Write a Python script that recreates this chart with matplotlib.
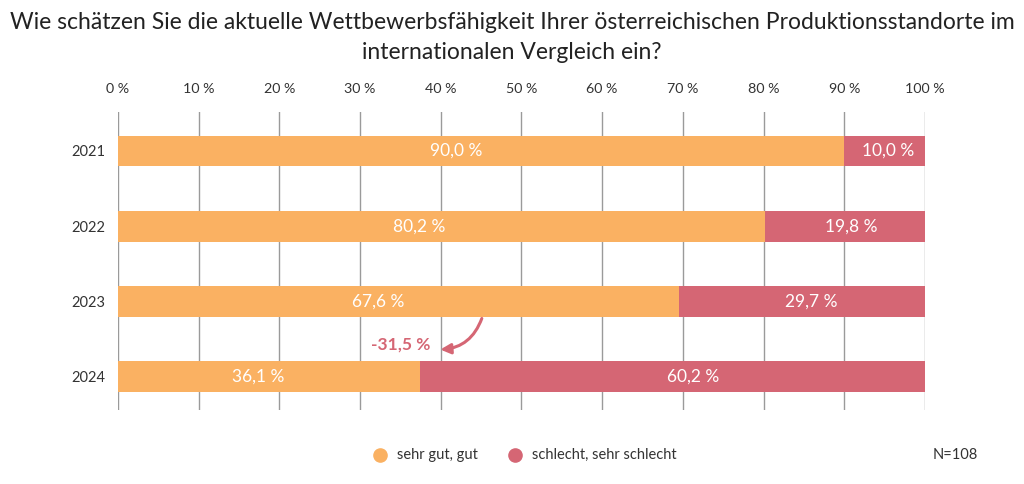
import matplotlib
matplotlib.use("Agg")
import matplotlib.pyplot as plt
from matplotlib.lines import Line2D
import numpy as np

plt.rcParams['font.family'] = ['Lato', 'DejaVu Sans']

years = ["2021", "2022", "2023", "2024"]
good = [90.0, 80.2, 67.6, 36.1]
bad = [10.0, 19.8, 29.7, 60.2]
series_names = ["sehr gut, gut", "schlecht, sehr schlecht"]
xticks = [0, 10, 20, 30, 40, 50, 60, 70, 80, 90, 100]
change_label = "-31,5 %"
title = "Wie schätzen Sie die aktuelle Wettbewerbsfähigkeit Ihrer österreichischen Produktionsstandorte im\ninternationalen Vergleich ein?"
n_label = "N=108"

c_good = "#FAB162"
c_bad = "#D56674"

def fmt(v):
    return f"{v:.1f} %".replace(".", ",")

fig = plt.figure(figsize=(10.24, 4.84), dpi=100)
ax = fig.add_axes([0.1152, 0.153, 0.7881, 0.616])

good_a = np.array(good)
bad_a = np.array(bad)
tot = good_a + bad_a
gw = good_a / tot * 100
bw = bad_a / tot * 100
y = np.arange(len(years))
h = 0.41

ax.barh(y, gw, height=h, color=c_good, zorder=3)
ax.barh(y, bw, left=gw, height=h, color=c_bad, zorder=3)
for i in range(len(years)):
    ax.text(gw[i] * 0.465, y[i], fmt(good[i]), color="white", ha="center", va="center", fontsize=12.5, zorder=4)
    ax.text(gw[i] + bw[i] * 0.54, y[i], fmt(bad[i]), color="white", ha="center", va="center", fontsize=12.5, zorder=4)

ax.set_xlim(0, 100)
ax.set_ylim(3.44, -0.52)
ax.set_xticks(xticks)
ax.set_xticklabels([f"{t} %" for t in xticks], fontsize=10.3, color="#333333")
ax.xaxis.tick_top()
ax.tick_params(axis="x", length=0, pad=12)
ax.set_yticks(y)
ax.set_yticklabels(years, fontsize=10.5, color="#333333")
ax.tick_params(axis="y", length=0, pad=9)
for s in ax.spines.values():
    s.set_visible(False)
ax.grid(axis="x", color="#9a9a9a", linewidth=1.0, zorder=0)
ax.grid(axis="y", visible=False)

# change annotation
ax.annotate("", xy=(39.6, 2.64), xytext=(45.2, 2.19),
            arrowprops=dict(arrowstyle="-|>", color=c_bad, lw=2.2,
                            connectionstyle="arc3,rad=-0.35", mutation_scale=15),
            zorder=5)
ax.text(35.0, 2.57, change_label, color=c_bad, ha="center", va="center",
        fontsize=12.5, fontweight="bold", zorder=5)

fig.text(0.5, 0.923, title, ha="center", va="center", fontsize=16.5, color="#222222", linespacing=1.55)

# legend
ly = 1 - 455 / 484
fig.lines.append(Line2D([380 / 1024], [ly], marker="o", markersize=9.5, color=c_good,
                        linestyle="none", transform=fig.transFigure))
fig.text(397 / 1024, ly, series_names[0], ha="left", va="center", fontsize=10.5, color="#333333")
fig.lines.append(Line2D([515 / 1024], [ly], marker="o", markersize=9.5, color=c_bad,
                        linestyle="none", transform=fig.transFigure))
fig.text(532 / 1024, ly, series_names[1], ha="left", va="center", fontsize=10.5, color="#333333")
fig.text(978 / 1024, ly, n_label, ha="right", va="center", fontsize=10.5, color="#333333")

fig.savefig("out.png", dpi=100)
